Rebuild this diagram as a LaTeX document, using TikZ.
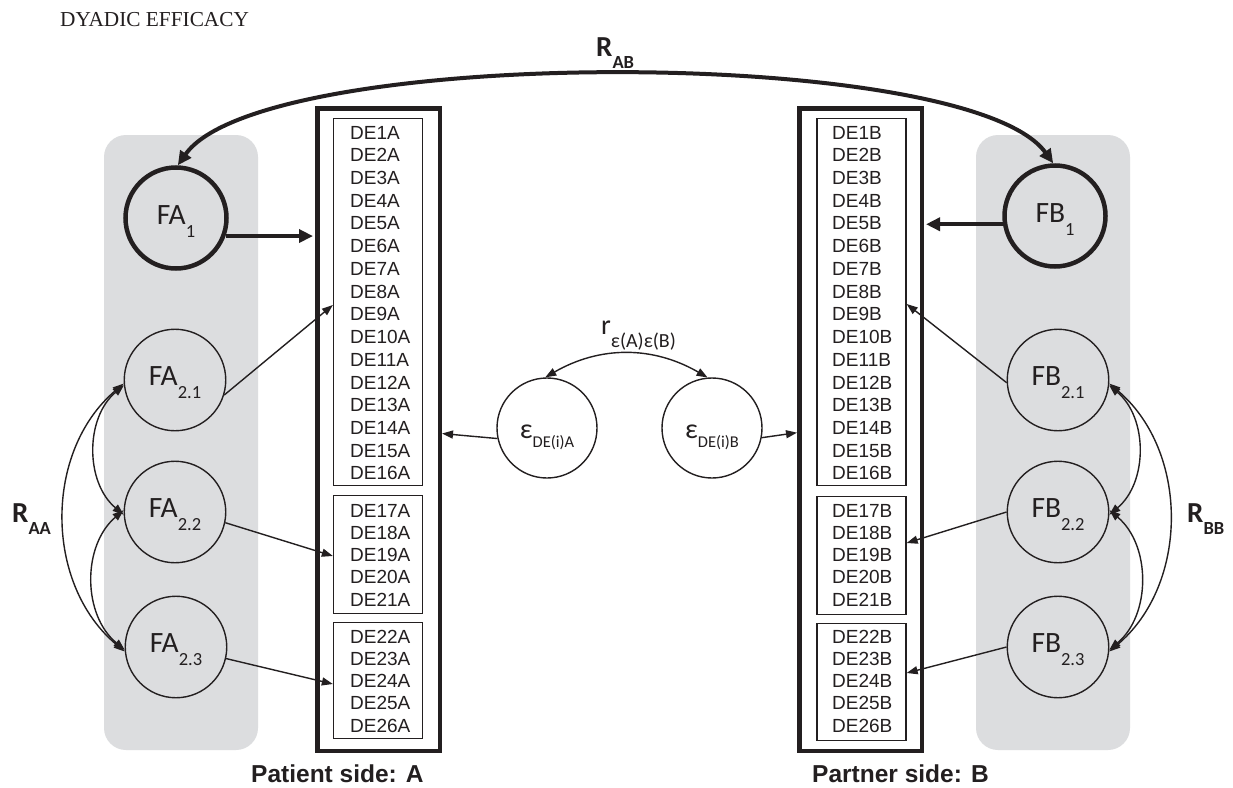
\documentclass[tikz,border=0pt]{standalone}
\usepackage{fontspec}
\setmainfont{Liberation Serif}
\newfontfamily\arialf{Liberation Sans}
\newfontfamily\calf{Carlito}
\usetikzlibrary{arrows.meta,calc}
\definecolor{graybg}{RGB}{220,221,223}
\definecolor{ink}{RGB}{35,31,32}
\newcommand\mySubF[1]{\rule{0pt}{25pt}\raisebox{-13pt}{\fontsize{18.5}{18.5}\selectfont #1}}
\newcommand\mySubE[1]{\rule{0pt}{32pt}\raisebox{-8.5pt}{\fontsize{16.5}{16.5}\selectfont #1}}
\newcommand\mySubR[1]{\raisebox{-12pt}{\fontsize{18.5}{18.5}\selectfont #1}}
\begin{document}
\begin{tikzpicture}[x=1pt,y=-1pt,
  every node/.style={text=ink},
  graybox/.style={fill=graybg, draw=none, rounded corners=22pt, inner sep=0pt},
  outerbox/.style={draw=ink, line width=4.5pt, minimum width=122.5pt, minimum height=642.5pt, inner sep=0pt},
  inbox/.style={draw=ink, line width=1.3pt, inner sep=0pt, minimum width=89pt},
  detext/.style={anchor=base west, inner sep=0pt, font=\arialf\fontsize{19}{19}\selectfont},
  fthick/.style={circle, draw=ink, line width=4.5pt, minimum size=101pt, inner sep=0pt, font=\calf\fontsize{29.5}{29.5}\selectfont},
  fthin/.style={circle, draw=ink, line width=1.4pt, minimum size=101.5pt, inner sep=0pt, font=\calf\fontsize{29.5}{29.5}\selectfont},
  epsc/.style={circle, draw=ink, line width=1.4pt, fill=white, minimum size=100pt, inner sep=0pt, font=\calf\fontsize{28}{28}\selectfont},
  thinarr/.style={draw=ink, line width=1.4pt, -{Triangle[length=11pt,width=8pt]}},
  dblarr/.style={draw=ink, line width=1.4pt, {Triangle[length=11pt,width=8pt]}-{Triangle[length=11pt,width=8pt]}},
  thickarr/.style={draw=ink, line width=4pt, shorten >=2pt, -{Triangle[length=14pt,width=13pt]}},
  thickdbl/.style={draw=ink, line width=4pt, {Triangle[length=14pt,width=13pt]}-{Triangle[length=14pt,width=13pt]}},
  rlab/.style={anchor=base west, inner sep=0pt, font=\calf\bfseries\fontsize{29}{29}\selectfont},
  sidelab/.style={anchor=base west, inner sep=0pt, font=\arialf\bfseries\fontsize{24.5}{24.5}\selectfont},
]
\fill[white] (0,0) rectangle (1233,787);
\useasboundingbox (0,0) rectangle (1233,787);

% title
\node[anchor=base west, inner sep=0pt, font=\fontsize{21.3}{21.3}\selectfont] (title) at (60,27) {DYADIC EFFICACY};

% gray regions
\node[graybox, minimum width=154pt, minimum height=615pt] (grayA) at (181,442.5) {};
\node[graybox, minimum width=154pt, minimum height=615pt] (grayB) at (1053,442.5) {};

% outer boxes
\node[outerbox] (outerA) at (378.5,429.5) {};
\node[outerbox] (outerB) at (860.5,429.5) {};

% inner boxes
\node[inbox, minimum height=367pt] (boxA1) at (378,302) {};
\node[inbox, minimum height=118pt] (boxA2) at (378,554.5) {};
\node[inbox, minimum height=116pt] (boxA3) at (378,680.5) {};
\node[inbox, minimum height=367pt] (boxB1) at (861.5,302) {};
\node[inbox, minimum height=118pt] (boxB2) at (861.5,555.5) {};
\node[inbox, minimum height=117pt] (boxB3) at (861.5,682) {};

% item texts
\foreach \i in {1,...,16} {
  \node[detext] (tA\i) at (350,{139+(\i-1)*22.73}) {DE\i A};
  \node[detext] (tB\i) at (832,{139+(\i-1)*22.73}) {DE\i B};
}
\foreach \i [count=\k from 0] in {17,...,21} {
  \node[detext] (tA\i) at (350,{517+\k*22.25}) {DE\i A};
  \node[detext] (tB\i) at (832,{517+\k*22.25}) {DE\i B};
}
\foreach \i [count=\k from 0] in {22,...,26} {
  \node[detext] (tA\i) at (350,{643+\k*22.25}) {DE\i A};
  \node[detext] (tB\i) at (832,{643+\k*22.25}) {DE\i B};
}

% factor circles
\node[fthick] (FA1) at (176,218) {FA\mySubF{1}};
\node[fthin] (FA21) at (175,380) {FA\mySubF{2.1}};
\node[fthin] (FA22) at (175,512) {FA\mySubF{2.2}};
\node[fthin] (FA23) at (176,647) {FA\mySubF{2.3}};
\node[fthick] (FB1) at (1055,216) {FB\mySubF{1}};
\node[fthin] (FB21) at (1058,380) {FB\mySubF{2.1}};
\node[fthin] (FB22) at (1058,512) {FB\mySubF{2.2}};
\node[fthin] (FB23) at (1058,647) {FB\mySubF{2.3}};

% error circles
\node[epsc] (epsA) at (547,428) {ε\mySubE{DE(i)A}};
\node[epsc] (epsB) at (712,428) {ε\mySubE{DE(i)B}};

% labels
\node[rlab] (RAA) at (12,522) {R\mySubR{AA}};
\node[rlab] (RBB) at (1187,522) {R\mySubR{BB}};
\node[rlab] (RAB) at (596,56) {R\mySubR{AB}};
\node[anchor=base west, inner sep=0pt, font=\calf\fontsize{28}{28}\selectfont] (rlab) at (601,334) {r\raisebox{-13pt}{\fontsize{20}{20}\selectfont ε(A)ε(B)}};
\node[sidelab] (sideA) at (251,782) {Patient side: A};
\node[sidelab] (sideB) at (812,782) {Partner side: B};

% R_AB
\draw[thickdbl] (FA1.88) .. controls (262,45) and (968,45) .. (FB1.92);

% thick loadings
\draw[thickarr] (FA1.-20) -- (FA1.-20 -| outerA.west);
\draw[thickarr] (FB1.189) -- (FB1.189 -| outerB.east);

% thin loadings
\draw[thinarr] (FA21.-17) -- ($(boxA1.west)+(0,3)$);
\draw[thinarr] (FA22.-12) -- ($(boxA2.west)+(0,1.5)$);
\draw[thinarr] (FA23.-13) -- ($(boxA3.west)+(0,3.5)$);
\draw[thinarr] (FB21.183) -- ($(boxB1.east)+(0,2)$);
\draw[thinarr] (FB22.180) -- ($(boxB2.east)+(0,-12.5)$);
\draw[thinarr] (FB23.180) -- ($(boxB3.east)+(0,-9)$);

% error arrows
\draw[thinarr] (epsA.192) -- ($(epsA.192 -| outerA.east)+(0,-5)$);
\draw[thinarr] (epsB.-11) -- ($(epsB.-11 -| outerB.west)+(0,-5)$);
\draw[dblarr] (epsA.92) to[bend left=30] (epsB.95);

% R_AA
\draw[dblarr] (FA21.186) to[bend right=50] (FA22.183);
\draw[dblarr] (FA22.178) to[bend right=50] (FA23.183);
\draw[dblarr] (FA21.184) to[bend right=50] (FA23.185);

% R_BB
\draw[dblarr] (FB21.-6) to[bend left=50] (FB22.-3);
\draw[dblarr] (FB22.2) to[bend left=50] (FB23.-3);
\draw[dblarr] (FB21.-4) to[bend left=50] (FB23.-5);
\end{tikzpicture}
\end{document}
